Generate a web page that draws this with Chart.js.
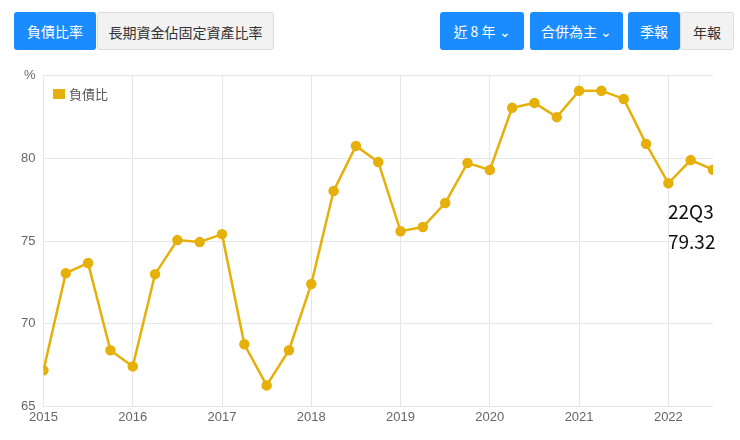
<!DOCTYPE html>
<html><head><meta charset="utf-8">
<script src="https://cdn.jsdelivr.net/npm/chart.js@4"></script>
<style>
body{margin:0;width:740px;height:440px;background:#fff;font-family:"Noto Sans CJK TC","Noto Sans",sans-serif;position:relative;overflow:hidden}
.btn{position:absolute;top:12px;height:38px;line-height:38px;font-size:14px;text-align:center;border-radius:3px}
.on{background:#1a8cff;color:#fff}
.off{background:#f2f2f2;color:#333;border:1px solid #ddd;box-sizing:border-box}
#wrap{position:absolute;left:0;top:60px;width:740px;height:380px}
#leg{position:absolute;left:53px;top:84px;font-size:13px;color:#555}
#leg span{display:inline-block;width:12px;height:10px;background:#e6b00a;margin-right:4px}
#ann{position:absolute;left:668px;top:196px;font-size:19px;line-height:30px;color:#111}
</style></head><body>
<div class="btn on" style="left:14px;width:82px">負債比率</div>
<div class="btn off" style="left:97px;width:177px">長期資金佔固定資產比率</div>
<div class="btn on" style="left:440px;width:84px">近 8 年 &#x2304;</div>
<div class="btn on" style="left:530px;width:93px">合併為主 &#x2304;</div>
<div class="btn on" style="left:628px;width:52px">季報</div>
<div class="btn off" style="left:680px;width:54px">年報</div>
<div id="wrap"><canvas id="c"></canvas></div>
<div id="leg"><span></span>負債比</div>
<div id="ann">22Q3<br>79.32</div>
<script>
// 2015Q1 .. 2022Q3
const quarters = [];
for (let y = 2015; y <= 2022; y++) for (let q = 0; q < 4; q++) quarters.push(y + q / 4);
const debtRatio = [67.18,73.06,73.67,68.4, 67.42,73.0,75.06,74.94, 75.42,68.76,66.27,68.4,
  72.4,78.03,80.76,79.79, 75.6,75.85,77.3,79.73, 79.3,83.06,83.36,82.5,
  84.1,84.1,83.6,80.88, 78.5,79.9,79.32];
const yTicks = [65,70,75,80,85];

new Chart(document.getElementById('c'), {
  type: 'line',
  data: { datasets: [{
    label: '負債比',
    data: debtRatio.map((v, i) => ({x: quarters[i], y: v})),
    borderColor: '#e6b00a', backgroundColor: '#e6b00a',
    borderWidth: 2.5, pointRadius: 4, tension: 0
  }]},
  options: {
    responsive: true, maintainAspectRatio: false, animation: false,
    layout: {padding: {left: 13, right: 27, top: 15, bottom: 12}},
    plugins: {legend: {display: false}, tooltip: {enabled: false}},
    scales: {
      x: {type: 'linear', min: 2015, max: 2022.5,
        afterBuildTicks: s => { s.ticks = [2015,2016,2017,2018,2019,2020,2021,2022].map(v => ({value: v})); },
        ticks: {color: '#666', font: {size: 13}, callback: v => String(v)},
        grid: {color: '#e6e6e6', drawTicks: false}, border: {display: false}},
      y: {min: 65, max: 85,
        afterBuildTicks: s => { s.ticks = yTicks.map(v => ({value: v})); },
        ticks: {color: '#666', font: {size: 13}, padding: 8, callback: v => v === 85 ? '%' : v},
        grid: {color: '#e6e6e6', drawTicks: false}, border: {display: false}}
    }
  }
});
</script>
</body></html>
